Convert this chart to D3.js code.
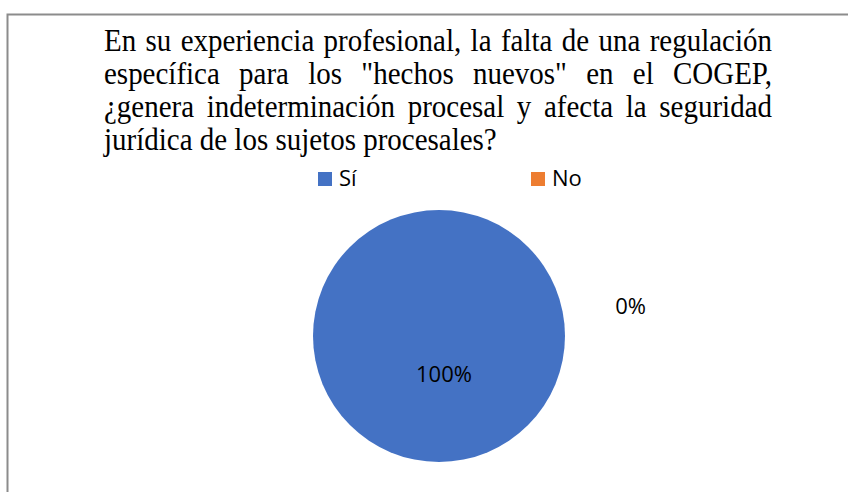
<!DOCTYPE html>
<html>
<head>
<meta charset="utf-8">
<script src="https://cdn.jsdelivr.net/npm/d3@7"></script>
<style>
  body { margin: 0; background: #fff; }
  svg { display: block; }
</style>
</head>
<body>
<div id="chart"></div>
<script>
// data
var categories = ["Sí", "No"];
var values = [100, 0];
var colors = ["#4472C4", "#ED7D31"];
var titleLines = [
    "En su experiencia profesional, la falta de una regulación",
    "específica para los \"hechos nuevos\" en el COGEP,",
    "¿genera indeterminación procesal y afecta la seguridad",
    "jurídica de los sujetos procesales?"
];

var width = 848, height = 492;

var svg = d3.select("#chart")
    .append("svg")
    .attr("width", width)
    .attr("height", height);

svg.append("rect")
    .attr("width", width)
    .attr("height", height)
    .attr("fill", "#fff");

// chart border (only top and left edges visible)
svg.append("path")
    .attr("d", "M7.5," + height + "V14.5H" + width)
    .attr("fill", "none")
    .attr("stroke", "#8c8c8c")
    .attr("stroke-width", 2);

// title, justified; glyphs look a bit stretched vertically in the original
var titleLeft = 104, titleRight = 772, titleTop = 51, lineGap = 33, stretch = 1.12;
titleLines.forEach(function (line, i) {
    var words = line.split(" ");
    var g = svg.append("g")
        .attr("transform", "translate(0," + (titleTop + i * lineGap) + ") scale(1," + stretch + ")");
    var t = g.selectAll("text")
        .data(words)
        .enter()
        .append("text")
        .attr("y", 0)
        .style("font-family", "'Liberation Serif', 'Times New Roman', serif")
        .style("font-size", "29px")
        .style("fill", "#000")
        .text(function (d) { return d; });
    var widths = [];
    t.each(function () { widths.push(this.getComputedTextLength()); });
    var total = d3.sum(widths);
    var gap = (i < titleLines.length - 1)
        ? (titleRight - titleLeft - total) / (words.length - 1)
        : 29 * 0.25;
    var x = titleLeft;
    t.attr("x", function (d, j) {
        var cur = x;
        x += widths[j] + gap;
        return cur;
    });
});

// legend
var legend = svg.append("g")
    .attr("transform", "translate(318,172)");

var item = legend.selectAll("g")
    .data(categories)
    .enter()
    .append("g")
    .attr("transform", function (d, i) { return "translate(" + (i * 213) + ",0)"; });

item.append("rect")
    .attr("width", 14)
    .attr("height", 14)
    .attr("fill", function (d, i) { return colors[i]; });

item.append("text")
    .attr("x", 21)
    .attr("y", 14)
    .style("font-family", "'Open Sans', 'Noto Sans', sans-serif")
    .style("font-size", "22px")
    .style("fill", "#000")
    .text(function (d) { return d; });

// pie
var cx = 439, cy = 336, radius = 126;

var pie = d3.pie().sort(null);
var arcs = pie(values);

var arc = d3.arc().innerRadius(0).outerRadius(radius);

var pieG = svg.append("g")
    .attr("transform", "translate(" + cx + "," + cy + ")");

pieG.selectAll("path")
    .data(arcs)
    .enter()
    .append("path")
    .attr("d", arc)
    .attr("fill", function (d, i) { return colors[i]; });

// data labels
var labelArc = d3.arc().innerRadius(radius * 0.3).outerRadius(radius * 0.3);

pieG.selectAll("text.lbl")
    .data(arcs)
    .enter()
    .append("text")
    .attr("class", "lbl")
    .attr("text-anchor", "middle")
    .attr("transform", function (d, i) {
        if (d.value > 0) {
            var c = labelArc.centroid(d);
            return "translate(" + (c[0] + 5) + "," + c[1] + ")";
        }
        // zero slice label is pushed outside to the right
        return "translate(" + (radius * 1.52) + "," + (-radius * 0.235) + ")";
    })
    .attr("dy", "0.35em")
    .style("font-family", "'Open Sans', 'Noto Sans', sans-serif")
    .style("font-size", "22px")
    .style("fill", "#000")
    .text(function (d) { return d.value + "%"; });
</script>
</body>
</html>
